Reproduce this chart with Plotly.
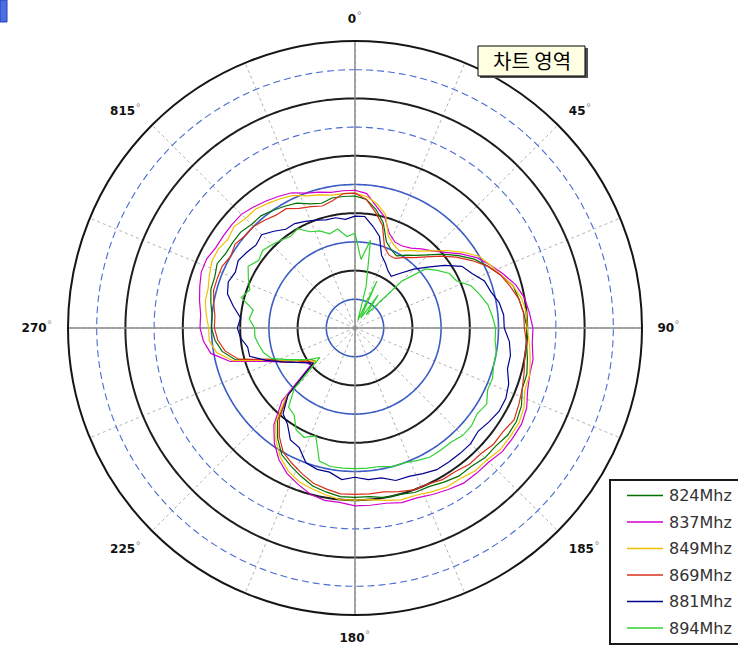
import numpy as np
import plotly.graph_objects as go

# Measurement angles (degrees, clockwise from top)
angles = list(range(0, 360, 5))

# Radiated level per frequency, in ring units (0..10)
r_824 = [4.6, 4.5, 4.2, 3.8, 3.2, 3.0, 2.9, 3.1, 3.3, 3.6, 4.0, 4.4, 4.8, 5.1, 5.4, 5.7, 5.8, 5.9,
         6.0, 6.0, 6.1, 6.2, 6.2, 6.4, 6.5, 6.5, 6.4, 6.4, 6.3, 6.3, 6.2, 6.1, 6.1, 6.0, 6.0, 5.9,
         5.9, 5.9, 5.8, 5.7, 5.5, 5.3, 5.1, 4.7, 4.2, 3.3, 1.8, 1.9, 2.3, 2.7, 3.2, 4.3, 4.7, 4.9,
         5.0, 5.0, 5.1, 5.2, 5.2, 5.3, 5.2, 5.2, 5.2, 5.1, 5.1, 5.0, 4.9, 4.8, 4.6, 4.5, 4.6, 4.6]
r_837 = [4.8, 4.7, 4.3, 4.0, 3.5, 3.3, 3.3, 3.4, 3.6, 3.8, 4.1, 4.5, 4.9, 5.2, 5.5, 5.8, 6.0, 6.1,
         6.2, 6.2, 6.3, 6.3, 6.4, 6.6, 6.7, 6.7, 6.7, 6.6, 6.6, 6.6, 6.5, 6.4, 6.3, 6.3, 6.2, 6.2,
         6.2, 6.1, 6.1, 6.0, 5.8, 5.6, 5.3, 4.9, 4.4, 3.6, 2.0, 2.1, 2.4, 2.8, 3.4, 4.5, 5.1, 5.3,
         5.4, 5.4, 5.5, 5.6, 5.7, 5.7, 5.6, 5.6, 5.6, 5.6, 5.5, 5.4, 5.3, 5.2, 5.0, 4.9, 4.8, 4.8]
r_849 = [4.7, 4.6, 4.4, 4.1, 3.4, 3.2, 3.1, 3.3, 3.5, 3.8, 4.2, 4.6, 5.0, 5.2, 5.4, 5.7, 5.9, 6.0,
         6.0, 6.1, 6.2, 6.3, 6.3, 6.5, 6.6, 6.6, 6.6, 6.5, 6.5, 6.4, 6.4, 6.3, 6.2, 6.2, 6.1, 6.0,
         6.0, 6.0, 5.9, 5.8, 5.7, 5.5, 5.2, 4.8, 4.3, 3.4, 1.8, 2.0, 2.3, 2.7, 3.3, 4.4, 4.9, 5.1,
         5.1, 5.2, 5.3, 5.3, 5.4, 5.5, 5.5, 5.4, 5.5, 5.4, 5.4, 5.3, 5.2, 5.1, 4.9, 4.8, 4.7, 4.7]
r_869 = [4.7, 4.5, 4.1, 3.7, 3.0, 2.8, 2.8, 3.0, 3.2, 3.5, 3.9, 4.3, 4.7, 5.1, 5.4, 5.6, 5.8, 5.9,
         5.9, 6.0, 6.0, 6.1, 6.2, 6.3, 6.4, 6.3, 6.3, 6.2, 6.2, 6.1, 6.1, 6.0, 6.0, 5.9, 5.8, 5.8,
         5.8, 5.8, 5.7, 5.6, 5.4, 5.2, 5.0, 4.6, 4.1, 3.3, 1.9, 2.0, 2.4, 2.8, 3.2, 4.2, 4.6, 4.8,
         4.9, 4.9, 5.0, 5.1, 5.1, 5.1, 5.0, 5.1, 5.0, 5.0, 4.9, 4.8, 4.8, 4.6, 4.5, 4.4, 4.5, 4.7]
r_881 = [3.9, 3.9, 3.6, 3.3, 2.7, 2.5, 2.3, 2.2, 2.5, 2.9, 3.3, 3.8, 4.3, 4.5, 4.8, 4.9, 5.1, 5.2,
         5.2, 5.4, 5.5, 5.5, 5.7, 5.8, 5.8, 5.7, 5.6, 5.7, 5.7, 5.7, 5.7, 5.6, 5.5, 5.5, 5.3, 5.3,
         5.2, 5.3, 5.1, 5.1, 5.0, 4.6, 4.5, 4.1, 3.9, 3.3, 1.9, 2.1, 2.4, 2.8, 3.3, 3.8, 3.8, 4.0,
         4.1, 4.0, 4.3, 4.6, 4.7, 4.6, 4.7, 4.6, 4.5, 4.6, 4.4, 4.2, 4.2, 4.1, 4.0, 3.9, 3.9, 3.8]
r_894 = [3.3, 2.4, 3.1, 1.5, 0.3, 1.8, 0.4, 1.4, 0.6, 2.3, 3.2, 3.5, 3.8, 3.9, 4.3, 4.5, 4.7, 4.8,
         4.9, 4.9, 5.0, 5.0, 5.1, 5.1, 5.3, 5.2, 5.3, 5.3, 5.2, 5.2, 5.2, 5.1, 5.0, 5.0, 4.9, 4.9,
         4.9, 4.9, 4.9, 4.8, 4.0, 4.2, 4.1, 3.7, 3.6, 3.0, 1.6, 1.9, 2.2, 2.6, 3.1, 3.3, 3.4, 3.5,
         3.5, 3.7, 3.6, 4.1, 3.9, 4.1, 4.3, 4.1, 4.2, 4.1, 4.0, 3.9, 4.0, 3.7, 3.6, 3.4, 3.5, 3.2]

names = ["824Mhz", "837Mhz", "849Mhz", "869Mhz", "881Mhz", "894Mhz"]
colors = ["#007000", "#d000d0", "#f0c000", "#d8301a", "#000090", "#30d030"]
levels = [r_824, r_837, r_849, r_869, r_881, r_894]

# Angular tick positions (spokes every 22.5 deg, labels every 45 deg)
tick_vals = [i * 22.5 for i in range(16)]
label_text = ["0", "45", "90", "185", "180", "225", "270", "815"]
tick_labels = []
for i in range(16):
    if i % 2 == 0:
        tick_labels.append("<b>" + label_text[i // 2] + "</b><span style='color:#9a9a9a'>˚</span>")
    else:
        tick_labels.append("")

W, H = 738, 648
cx, cy, R = 355, 328, 287


def px(x):
    return x / W


def py(y):
    return 1 - y / H


fig = go.Figure()

# Concentric rings: odd rings blue (inner solid, outer dashed), even rings black
ring_theta = np.linspace(0, 360, 361)
for k in range(1, 10):
    if k % 2 == 0:
        line = dict(color="#1e1e1e", width=2)
    elif k <= 5:
        line = dict(color="#3b5cc4", width=1.6)
    else:
        line = dict(color="#4a6cd0", width=1.1, dash="7px,4px")
    fig.add_trace(go.Scatterpolar(r=[k] * len(ring_theta), theta=ring_theta, mode="lines",
                                  line=line, showlegend=False, hoverinfo="skip"))

# Solid main cross axes
for a in (0, 90):
    fig.add_trace(go.Scatterpolar(r=[10, 0, 10], theta=[a, a, a + 180], mode="lines",
                                  line=dict(color="#8a8a8a", width=1.5),
                                  showlegend=False, hoverinfo="skip"))

# Frequency patterns (closed loops)
for name, r, c in zip(names, levels, colors):
    fig.add_trace(go.Scatterpolar(r=r + r[:1], theta=angles + angles[:1], mode="lines",
                                  name=name, line=dict(color=c, width=1.2), showlegend=False))

# Legend box with one row per frequency
leg_top, leg_bottom, leg_left = 480, 644, 610
row_y = [495.5 + 26.5 * i for i in range(len(names))]
shapes = [
    # selection handle at the top-left corner
    dict(type="rect", xref="paper", yref="paper", x0=0, x1=px(7), y0=py(22), y1=1,
         fillcolor="#4d6ee0", line=dict(color="#2040c0", width=1)),
    # tooltip shadow and box
    dict(type="rect", xref="paper", yref="paper", x0=px(480), x1=px(588),
         y0=py(78), y1=py(48), fillcolor="#505050", line=dict(width=0)),
    dict(type="rect", xref="paper", yref="paper", x0=px(478), x1=px(585),
         y0=py(76), y1=py(46), fillcolor="#ffffe1", line=dict(color="#000", width=1)),
    # legend frame
    dict(type="rect", xref="paper", yref="paper", x0=px(leg_left), x1=px(750),
         y0=py(leg_bottom), y1=py(leg_top), fillcolor="white", line=dict(color="#1a1a1a", width=2)),
]
annotations = [
    dict(text="차트 영역", x=px(532), y=py(61), xref="paper", yref="paper",
         xanchor="center", yanchor="middle", showarrow=False,
         font=dict(family="Noto Sans CJK KR", size=20, color="#000")),
]
for name, c, yy in zip(names, colors, row_y):
    shapes.append(dict(type="line", xref="paper", yref="paper", x0=px(627), x1=px(663),
                       y0=py(yy), y1=py(yy), line=dict(color=c, width=1.5)))
    annotations.append(dict(text=name, x=px(667), y=py(yy), xref="paper", yref="paper",
                            xanchor="left", yanchor="middle", showarrow=False,
                            font=dict(family="DejaVu Sans", size=16, color="#333")))

fig.update_layout(
    width=W, height=H, autosize=False,
    margin=dict(l=0, r=0, t=0, b=0),
    paper_bgcolor="white",
    showlegend=False,
    polar=dict(
        domain=dict(x=[(cx - R) / W, (cx + R) / W], y=[(H - cy - R) / H, (H - cy + R) / H]),
        bgcolor="white",
        radialaxis=dict(range=[0, 10], showticklabels=False, showgrid=False, showline=False, ticks=""),
        angularaxis=dict(rotation=90, direction="clockwise", tickmode="array",
                         tickvals=tick_vals, ticktext=tick_labels,
                         showgrid=True, gridcolor="#b4b4b4", griddash="dot", gridwidth=1,
                         showline=True, linecolor="#151515", linewidth=2,
                         ticks="outside", ticklen=12, tickcolor="rgba(0,0,0,0)",
                         tickfont=dict(family="DejaVu Sans", size=12, color="#111")),
    ),
    shapes=shapes,
    annotations=annotations,
)

fig.write_html("out.html")
